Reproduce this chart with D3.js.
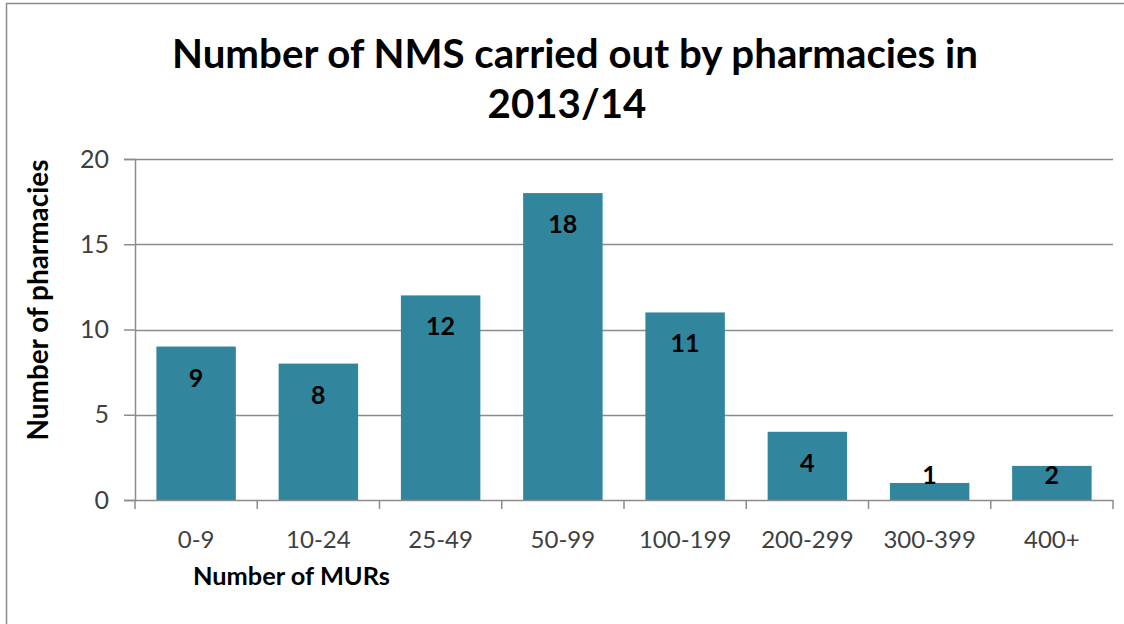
<!DOCTYPE html>
<html>
<head>
<meta charset="utf-8">
<script src="https://cdn.jsdelivr.net/npm/d3@7"></script>
<style>
  body { margin: 0; background: #fff; overflow: hidden; }
  svg text { font-family: Lato, "Open Sans", sans-serif; }
</style>
</head>
<body>
<div id="chart"></div>
<script>
// data
var categories = ["0-9", "10-24", "25-49", "50-99", "100-199", "200-299", "300-399", "400+"];
var pharmacies = [9, 8, 12, 18, 11, 4, 1, 2];
var yTicks = [0, 5, 10, 15, 20];
var titleLines = ["Number of NMS carried out by pharmacies in", "2013/14"];
var xTitle = "Number of MURs";
var yTitle = "Number of pharmacies";

var W = 1124, H = 624;
var margin = {left: 135, right: 11, top: 159, bottom: 124};
var width = W - margin.left - margin.right,
    height = H - margin.top - margin.bottom;

var svg = d3.select("#chart").append("svg")
    .attr("width", W)
    .attr("height", H)
    .style("display", "block");

// chart frame (only top and left edges are inside the picture)
svg.append("path")
    .attr("d", "M6.5," + H + "V3.5H" + W)
    .attr("fill", "none")
    .attr("stroke", "#8a8a8a")
    .attr("stroke-width", 1.5);

// fit text to a width by changing font size
function fitText(sel, target) {
    var len = sel.node().getComputedTextLength();
    var fs = parseFloat(sel.attr("font-size"));
    sel.attr("font-size", fs * target / len);
}

// title
var t1 = svg.append("text")
    .attr("x", 575).attr("y", 68)
    .attr("text-anchor", "middle")
    .attr("font-size", 34).attr("font-weight", "bold")
    .attr("fill", "#000")
    .text(titleLines[0]);
fitText(t1, 806);
svg.append("text")
    .attr("x", 567).attr("y", 118)
    .attr("text-anchor", "middle")
    .attr("font-size", t1.attr("font-size")).attr("font-weight", "bold")
    .attr("fill", "#000")
    .text(titleLines[1]);

var g = svg.append("g")
    .attr("transform", "translate(" + margin.left + "," + margin.top + ")");

var x = d3.scaleBand()
    .domain(categories)
    .range([0, width])
    .paddingInner(0.35)
    .paddingOuter(0.175);

var y = d3.scaleLinear()
    .domain([0, 20])
    .range([height, 0]);

// gridlines
g.selectAll(".grid")
    .data(yTicks.filter(function(d) { return d > 0; }))
    .enter().append("line")
        .attr("x1", 0).attr("x2", width)
        .attr("y1", function(d) { return Math.round(y(d)) + 0.5; })
        .attr("y2", function(d) { return Math.round(y(d)) + 0.5; })
        .attr("stroke", "#8c8c8c")
        .attr("stroke-width", 1.5);

// bars
g.selectAll(".bar")
    .data(pharmacies)
    .enter().append("rect")
        .attr("x", function(d, i) { return x(categories[i]); })
        .attr("y", function(d) { return y(d); })
        .attr("width", x.bandwidth())
        .attr("height", function(d) { return y(0) - y(d); })
        .attr("fill", "#31859c");

// data labels (inside end)
g.selectAll(".lbl")
    .data(pharmacies)
    .enter().append("text")
        .attr("x", function(d, i) { return x(categories[i]) + x.bandwidth() / 2; })
        .attr("y", function(d) { return Math.min(y(d) + 31, y(0) - 25); })
        .attr("dy", "0.36em")
        .attr("text-anchor", "middle")
        .attr("font-size", 25).attr("font-weight", "bold")
        .attr("fill", "#000")
        .text(function(d) { return d; });

// y axis
var yAxis = g.append("g")
    .call(d3.axisLeft(y).tickValues(yTicks).tickSize(11).tickPadding(15));
yAxis.selectAll("line, path").attr("stroke", "#8c8c8c").attr("stroke-width", 1.5);
yAxis.selectAll("text").attr("font-size", 25).attr("fill", "#404040")
    .style("font-family", "Lato, sans-serif");

// x axis
var xAxis = g.append("g")
    .attr("transform", "translate(0," + height + ")")
    .call(d3.axisBottom(x).tickSize(0).tickPadding(31));
xAxis.select("path").attr("stroke", "#8c8c8c").attr("stroke-width", 1.5);
xAxis.selectAll("text").attr("font-size", 24).attr("fill", "#404040")
    .style("font-family", "Lato, sans-serif");
// tick marks between categories
var bounds = categories.map(function(c) { return x(c) - x.step() * x.paddingInner() / 2; });
bounds.push(width);
bounds[0] = 0;
xAxis.selectAll(".sep")
    .data(bounds)
    .enter().append("line")
        .attr("x1", function(d) { return d; }).attr("x2", function(d) { return d; })
        .attr("y1", 0).attr("y2", 9)
        .attr("stroke", "#8c8c8c").attr("stroke-width", 1.5);

// axis titles
var xt = svg.append("text")
    .attr("x", 193).attr("y", 585)
    .attr("font-size", 20).attr("font-weight", "bold")
    .attr("fill", "#000")
    .text(xTitle);
fitText(xt, 197);

var yt = svg.append("text")
    .attr("transform", "translate(48,300) rotate(-90)")
    .attr("text-anchor", "middle")
    .attr("font-size", 20).attr("font-weight", "bold")
    .attr("fill", "#000")
    .text(yTitle);
fitText(yt, 281);
</script>
</body>
</html>
